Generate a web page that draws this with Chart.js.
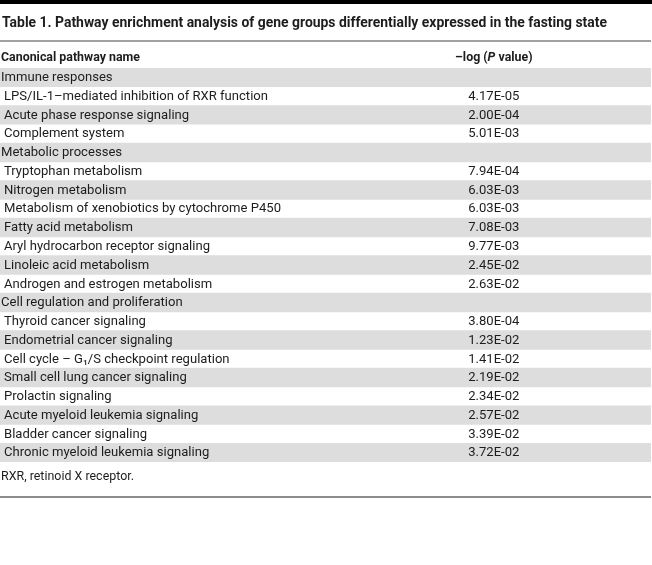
<!DOCTYPE html>
<html>
<head>
<meta charset="utf-8">
<script src="https://cdn.jsdelivr.net/npm/chart.js@4"></script>
<style>
  html, body { margin: 0; padding: 0; background: #fff; }
  #table { display: block; }
</style>
</head>
<body>
<canvas id="table" width="652" height="565"></canvas>
<script>
const title = "Table 1. Pathway enrichment analysis of gene groups differentially expressed in the fasting state";
const headers = ["Canonical pathway name", "–log (P value)"];
const footnote = "RXR, retinoid X receptor.";

const pathways = [
  "Immune responses",
  "LPS/IL-1–mediated inhibition of RXR function",
  "Acute phase response signaling",
  "Complement system",
  "Metabolic processes",
  "Tryptophan metabolism",
  "Nitrogen metabolism",
  "Metabolism of xenobiotics by cytochrome P450",
  "Fatty acid metabolism",
  "Aryl hydrocarbon receptor signaling",
  "Linoleic acid metabolism",
  "Androgen and estrogen metabolism",
  "Cell regulation and proliferation",
  "Thyroid cancer signaling",
  "Endometrial cancer signaling",
  "Cell cycle – G₁/S checkpoint regulation",
  "Small cell lung cancer signaling",
  "Prolactin signaling",
  "Acute myeloid leukemia signaling",
  "Bladder cancer signaling",
  "Chronic myeloid leukemia signaling",
];
// null = group heading row
const pValues = [
  null, 4.17e-5, 2.00e-4, 5.01e-3,
  null, 7.94e-4, 6.03e-3, 6.03e-3, 7.08e-3, 9.77e-3, 2.45e-2, 2.63e-2,
  null, 3.80e-4, 1.23e-2, 1.41e-2, 2.19e-2, 2.34e-2, 2.57e-2, 3.39e-2, 3.72e-2,
];

const FAMILY = "Roboto, 'Noto Sans', sans-serif";
const INK = "#1e1c1d";

function fmt(v) {
  const [m, e] = v.toExponential(2).toUpperCase().split("E");
  const n = Math.abs(parseInt(e, 10));
  return m + "E" + (e.startsWith("-") ? "-" : "+") + String(n).padStart(2, "0");
}

// font at a given size, squeezed sideways so the sample string gets the width in the picture
function makeStyle(ctx, size, weight, sample, width) {
  const font = `${weight} ${size}px ${FAMILY}`;
  ctx.font = font;
  return { font, sx: width / ctx.measureText(sample).width };
}

// draw a run of [text, extraFontPrefix] parts
function drawRun(ctx, st, parts, x, y, align) {
  let total = 0;
  parts.forEach(([t, pre]) => { ctx.font = (pre || "") + " " + st.font; total += ctx.measureText(t).width; });
  let px = align === "center" ? -total / 2 : 0;
  ctx.save();
  ctx.translate(x, y);
  ctx.scale(st.sx, 1);
  ctx.textAlign = "left";
  ctx.textBaseline = "middle";
  parts.forEach(([t, pre]) => {
    ctx.font = (pre || "") + " " + st.font;
    ctx.fillText(t, px, 0);
    px += ctx.measureText(t).width;
  });
  ctx.restore();
}

const tablePlugin = {
  id: "tableText",
  afterDatasetsDraw(chart) {
    const { ctx, scales: { x, y }, width } = chart;
    ctx.save();

    // top rule and title
    ctx.fillStyle = "#000";
    ctx.fillRect(0, 0, width, 4);
    ctx.fillStyle = INK;
    const tSt = makeStyle(ctx, 14, "bold", title, 605);
    drawRun(ctx, tSt, [[title]], 2, 23);
    ctx.fillStyle = "#444";
    ctx.fillRect(0, 40.5, width - 1, 1);

    // header row
    ctx.fillStyle = INK;
    const hSt = makeStyle(ctx, 12.5, "bold", headers[0], 139);
    drawRun(ctx, hSt, [[headers[0]]], 1, 58);
    const colX = x.getPixelForValue(0.7585);
    drawRun(ctx, hSt, [["–log ("], ["P", "italic"], [" value)"]], colX, 58, "center");

    // body rows
    const rSt = makeStyle(ctx, 13, "normal", pathways[1], 264);
    pathways.forEach((name, i) => {
      const py = y.getPixelForValue(i) + 0.5;
      drawRun(ctx, rSt, [[name]], pValues[i] === null ? 1 : 4, py);
      if (pValues[i] !== null) {
        drawRun(ctx, rSt, [[fmt(pValues[i])]], colX, py, "center");
      }
    });

    // footnote and bottom rule
    const fSt = makeStyle(ctx, 12, "normal", footnote, 133);
    drawRun(ctx, fSt, [[footnote]], 1, 477);
    ctx.fillStyle = "#8c8c8c";
    ctx.fillRect(0, 496, width - 1, 2);
    ctx.restore();
  },
};

new Chart(document.getElementById("table"), {
  type: "bar",
  data: {
    labels: pathways,
    datasets: [{
      data: pathways.map((_, i) => (i % 2 === 0 ? [0, 1] : null)),
      backgroundColor: "#dddddd",
      borderWidth: 0,
      barPercentage: 1,
      categoryPercentage: 1,
    }],
  },
  options: {
    indexAxis: "y",
    responsive: false,
    animation: false,
    layout: { padding: { top: 68, bottom: 103, left: 0, right: 1 } },
    scales: {
      x: { min: 0, max: 1, display: false },
      y: { display: false },
    },
    plugins: { legend: { display: false }, tooltip: { enabled: false } },
  },
  plugins: [tablePlugin],
});
</script>
</body>
</html>
